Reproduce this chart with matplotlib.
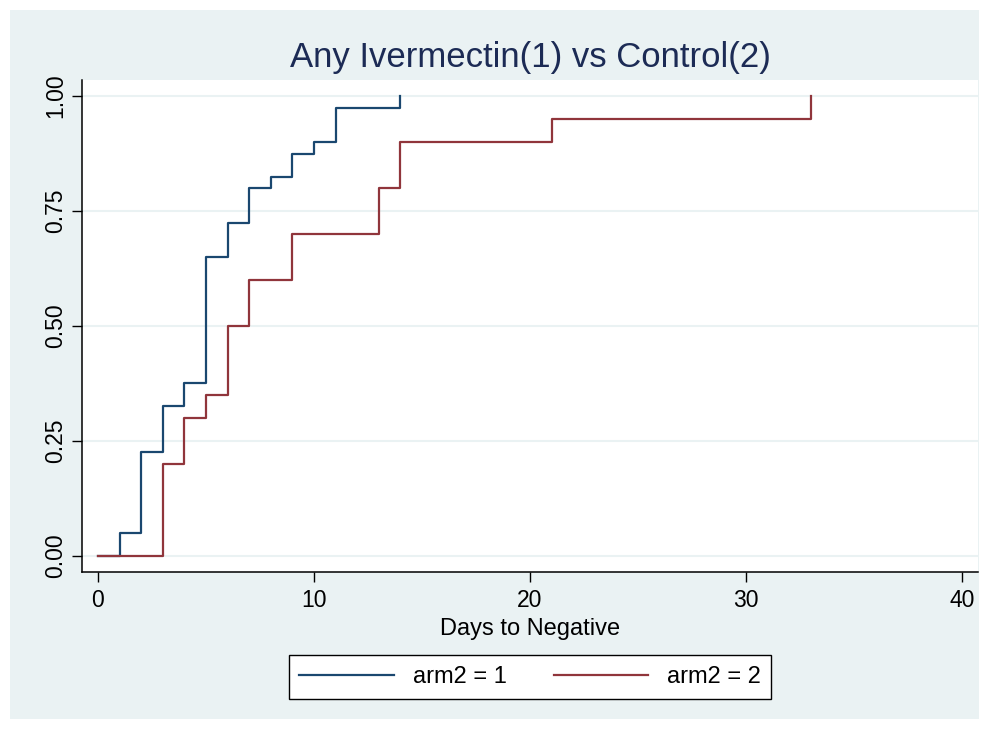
import numpy as np
import matplotlib.pyplot as plt
from matplotlib.patches import Rectangle

# Kaplan-Meier failure estimates
days_arm1 = [0, 1, 2, 3, 4, 5, 6, 7, 8, 9, 10, 11, 14]
fail_arm1 = [0.0, 0.05, 0.225, 0.325, 0.375, 0.65, 0.725, 0.8, 0.825, 0.875, 0.9, 0.975, 1.0]

days_arm2 = [0, 3, 4, 5, 6, 7, 9, 13, 14, 21, 33]
fail_arm2 = [0.0, 0.2, 0.3, 0.35, 0.5, 0.6, 0.7, 0.8, 0.9, 0.95, 1.0]

x_ticks = [0, 10, 20, 30, 40]
y_ticks = [0.0, 0.25, 0.5, 0.75, 1.0]

navy = "#1a476f"
maroon = "#90353b"
bg = "#eaf2f3"
title_col = "#1c2b55"
fam = ["Liberation Sans", "DejaVu Sans"]

W, H = 989, 729
fig = plt.figure(figsize=(W / 100, H / 100), dpi=100)
fig.patch.set_facecolor("white")
fig.patches.append(Rectangle((10 / W, 10 / H), 969 / W, 709 / H, transform=fig.transFigure,
                             facecolor=bg, edgecolor="none", zorder=-5))

ax = fig.add_axes([82 / W, 1 - 572 / H, 896 / W, 492 / H])
ax.set_facecolor("white")

ax.step(days_arm1, fail_arm1, where="post", color=navy, lw=1.6, label="arm2 = 1")
ax.step(days_arm2, fail_arm2, where="post", color=maroon, lw=1.6, label="arm2 = 2")

ax.set_xlim(-0.74, 40.74)
ax.set_ylim(-0.035, 1.035)
ax.set_xticks(x_ticks)
ax.set_yticks(y_ticks)
ax.set_xticklabels([str(t) for t in x_ticks], family=fam, fontsize=16.5)
ax.set_yticklabels(["%.2f" % t for t in y_ticks], family=fam, fontsize=16.5,
                   rotation=90, va="center")
ax.tick_params(length=7, width=1, color="black")
ax.tick_params(axis="x", pad=5.5)
ax.tick_params(axis="y", pad=3.5)
ax.grid(axis="y", color=bg, lw=1.5)
ax.set_axisbelow(True)
for s in ["top", "right"]:
    ax.spines[s].set_visible(False)
for s in ["left", "bottom"]:
    ax.spines[s].set_linewidth(1.1)

ax.set_xlabel("Days to Negative", family=fam, fontsize=17, labelpad=4)
fig.text(530 / W, 1 - 58 / H, "Any Ivermectin(1) vs Control(2)", ha="center", va="center",
         fontsize=25, color=title_col, family=fam)

leg = fig.legend(loc="center", bbox_to_anchor=(530 / W, 1 - 677 / H), ncol=2, frameon=True,
                 fancybox=False, edgecolor="black", facecolor="white", framealpha=1,
                 handlelength=4.0, columnspacing=2.0, handletextpad=0.8,
                 prop={"family": fam, "size": 17}, borderpad=0.45)
leg.get_frame().set_linewidth(1.0)

fig.savefig("out.png", dpi=100, facecolor=fig.get_facecolor())
